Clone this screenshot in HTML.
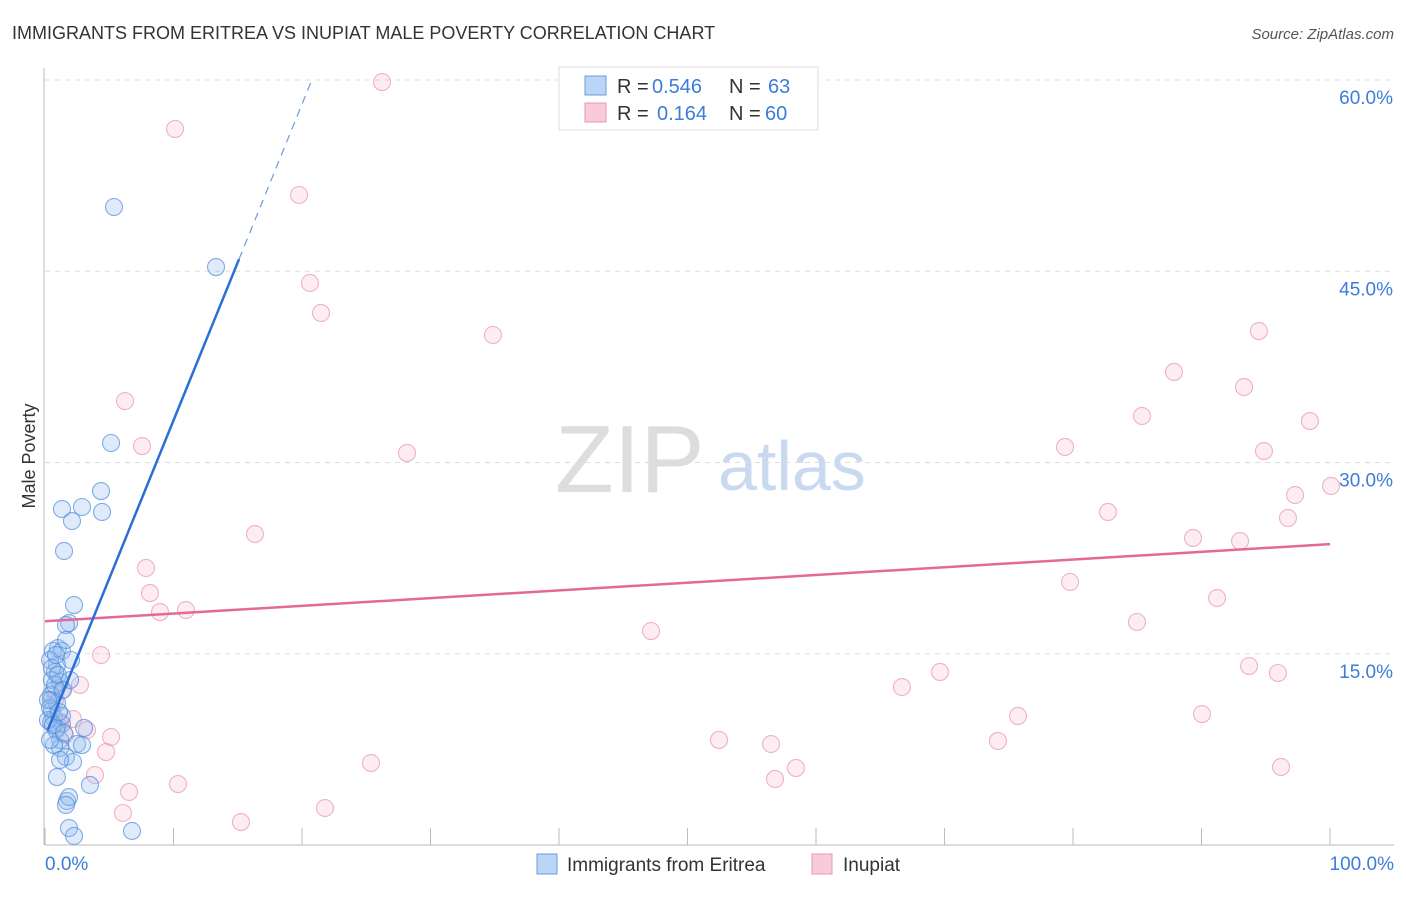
<!DOCTYPE html>
<html><head><meta charset="utf-8"><style>
body{margin:0;background:#fff;font-family:"Liberation Sans",sans-serif;}
svg text{font-family:"Liberation Sans",sans-serif;}
</style></head><body>
<svg id="c" width="1406" height="892">
<text x="12" y="39" font-size="18" fill="#333">IMMIGRANTS FROM ERITREA VS INUPIAT MALE POVERTY CORRELATION CHART</text>
<text x="1394" y="39" font-size="15" fill="#555" font-style="italic" text-anchor="end">Source: ZipAtlas.com</text>
<text x="35" y="456" font-size="18" fill="#333" transform="rotate(-90 35 456)" text-anchor="middle">Male Poverty</text>
<text x="555" y="492" font-size="96" fill="#ddd" font-family="Liberation Serif">ZIP</text>
<text x="718" y="490" font-size="70" fill="#c9daf0">atlas</text>
<g id="grid"></g><g id="pts"></g><g id="lines"></g>
<g>
<rect x="559" y="67" width="259" height="63" fill="#fff" stroke="#ddd"/>
<rect x="585" y="76" width="21" height="19" fill="#bcd5f5" stroke="#6a9be0"/>
<rect x="585" y="103" width="21" height="19" fill="#f9cad8" stroke="#e898b0"/>
<text x="617" y="93" font-size="20" fill="#333">R =</text>
<text x="652" y="93" font-size="20" fill="#3b7dd8">0.546</text>
<text x="729" y="93" font-size="20" fill="#333">N =</text>
<text x="768" y="93" font-size="20" fill="#3b7dd8">63</text>
<text x="617" y="120" font-size="20" fill="#333">R =</text>
<text x="657" y="120" font-size="20" fill="#3b7dd8">0.164</text>
<text x="729" y="120" font-size="20" fill="#333">N =</text>
<text x="765" y="120" font-size="20" fill="#3b7dd8">60</text>
</g>
<g>
<rect x="537" y="854" width="20" height="20" fill="#bcd5f5" stroke="#6a9be0"/>
<text x="567" y="871" font-size="19" fill="#333">Immigrants from Eritrea</text>
<rect x="812" y="854" width="20" height="20" fill="#f9cad8" stroke="#e898b0"/>
<text x="843" y="871" font-size="19" fill="#333">Inupiat</text>
</g>
</svg>
<script>
const yTicks=[15,30,45,60];
const yTickLabels=["15.0%","30.0%","45.0%","60.0%"];
const xTickVals=[0,10,20,30,40,50,60,70,80,90,100];
const bluePx=[[114,207],[216,267],[111,443],[101,491],[62,509],[82,507],[102,512],[72,521],[64,551],[74,605],[69,623],[66,625],[58,648],[53,651],[62,651],[71,660],[57,665],[55,672],[52,680],[60,682],[54,690],[51,700],[57,703],[52,710],[54,718],[51,722],[62,724],[57,728],[84,728],[60,740],[77,744],[82,745],[60,748],[66,757],[73,762],[57,777],[90,785],[67,801],[69,797],[66,805],[69,828],[74,836],[132,831],[50,660],[51,695],[55,685],[56,730],[62,716],[48,720],[52,668],[58,675],[63,690],[50,708],[56,655],[66,640],[54,745],[48,700],[60,760],[70,680],[50,740],[53,725],[59,712],[64,733]];
const pinkPx=[[175,129],[382,82],[299,195],[310,283],[321,313],[493,335],[125,401],[142,446],[407,453],[255,534],[146,568],[150,593],[160,612],[186,610],[651,631],[101,655],[80,685],[62,690],[73,719],[60,722],[87,730],[111,737],[106,752],[95,775],[129,792],[178,784],[123,813],[241,822],[325,808],[371,763],[719,740],[771,744],[775,779],[796,768],[902,687],[940,672],[1018,716],[998,741],[1070,582],[1108,512],[1137,622],[1065,447],[1142,416],[1174,372],[1193,538],[1217,598],[1202,714],[1240,541],[1244,387],[1249,666],[1259,331],[1264,451],[1278,673],[1281,767],[1288,518],[1295,495],[1310,421],[1331,486],[55,700],[65,735]];
const blueX=bluePx.map(p=>+((p[0]-45)/12.85).toFixed(2));
const blueY=bluePx.map(p=>+((845-p[1])/12.75).toFixed(2));
const pinkX=pinkPx.map(p=>+((p[0]-45)/12.85).toFixed(2));
const pinkY=pinkPx.map(p=>+((845-p[1])/12.75).toFixed(2));
const blueTrend=[8.5,2.48];
const pinkTrend=[17.55,0.0605];
const X=v=>45+v*12.85, Y=v=>845-v*12.75;
const NS="http://www.w3.org/2000/svg";
function mk(t,a,p){const e=document.createElementNS(NS,t);for(const k in a)e.setAttribute(k,a[k]);p.appendChild(e);return e;}
const g=document.getElementById('grid');
yTicks.forEach((v,i)=>{
 const l=mk('line',{x1:45,x2:1394,y1:Y(v),y2:Y(v),stroke:'#ddd','stroke-dasharray':'5,5'},g);
 
 
 const t=mk('text',{x:1393,y:Y(v)+24,'font-size':19,fill:'#3b7dd8','text-anchor':'end'},g);t.textContent=yTickLabels[i];
 
 
});
const ax=mk('line',{x1:45,x2:1394,y1:845,y2:845,stroke:'#bbb'},g);


const ay=mk('line',{x1:44,x2:44,y1:68,y2:845,stroke:'#bbb'},g);


xTickVals.forEach(v=>{const l=mk('line',{x1:X(v),x2:X(v),y1:828,y2:845,stroke:'#bbb'},g);
 
 });
let t=mk('text',{x:45,y:870,'font-size':19,fill:'#3b7dd8'},g);t.textContent='0.0%';


t=mk('text',{x:1394,y:870,'font-size':19,fill:'#3b7dd8','text-anchor':'end'},g);t.textContent='100.0%';


const pg=document.getElementById('pts');
pinkX.forEach((x,i)=>{const c=mk('circle',{cx:X(x),cy:Y(pinkY[i]),r:8.5,fill:'rgba(244,170,195,0.22)',stroke:'rgba(232,140,170,0.65)','stroke-width':1.1},pg);
 
 });
blueX.forEach((x,i)=>{const c=mk('circle',{cx:X(x),cy:Y(blueY[i]),r:8.5,fill:'rgba(150,188,238,0.3)',stroke:'rgba(80,140,220,0.7)','stroke-width':1.1},pg);
 
 });
const lg=document.getElementById('lines');
let l=mk('line',{x1:X(0),y1:Y(pinkTrend[0]),x2:X(100),y2:Y(pinkTrend[0]+pinkTrend[1]*100),stroke:'#e4699a','stroke-width':2.5},lg);


const bx0=0.2,bx1=15.1,bx2=(60-blueTrend[0])/blueTrend[1];
l=mk('line',{x1:X(bx0),y1:Y(blueTrend[0]+blueTrend[1]*bx0),x2:X(bx1),y2:Y(blueTrend[0]+blueTrend[1]*bx1),stroke:'#2a6fd6','stroke-width':2.5},lg);


l=mk('line',{x1:X(bx1),y1:Y(blueTrend[0]+blueTrend[1]*bx1),x2:X(bx2),y2:Y(60),stroke:'#6a9be0','stroke-width':1.2,'stroke-dasharray':'8,6'},lg);


</script>
</body></html>
